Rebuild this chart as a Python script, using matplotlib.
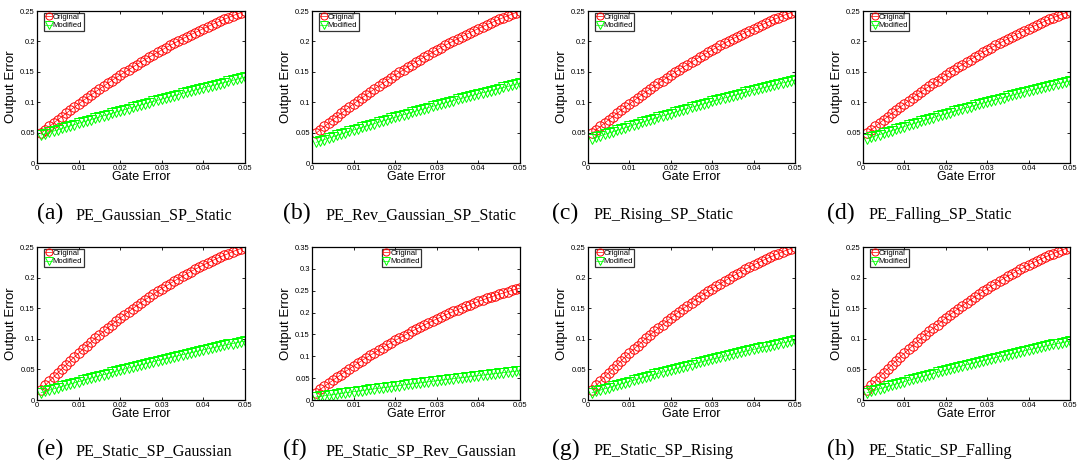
import matplotlib
matplotlib.use('Agg')
import matplotlib.pyplot as plt

# gate error sweep (x axis shared by all panels)
gate_error = [0.001, 0.002, 0.003, 0.004, 0.005, 0.006, 0.007, 0.008, 0.009, 0.010,
              0.011, 0.012, 0.013, 0.014, 0.015, 0.016, 0.017, 0.018, 0.019, 0.020,
              0.021, 0.022, 0.023, 0.024, 0.025, 0.026, 0.027, 0.028, 0.029, 0.030,
              0.031, 0.032, 0.033, 0.034, 0.035, 0.036, 0.037, 0.038, 0.039, 0.040,
              0.041, 0.042, 0.043, 0.044, 0.045, 0.046, 0.047, 0.048, 0.049, 0.050]

# original output error, PE varied (a-d)
orig_pe = [0.0490, 0.0546, 0.0601, 0.0656, 0.0710, 0.0763, 0.0816, 0.0868, 0.0920, 0.0971,
           0.1021, 0.1070, 0.1120, 0.1168, 0.1216, 0.1263, 0.1310, 0.1356, 0.1401, 0.1446,
           0.1490, 0.1533, 0.1576, 0.1618, 0.1660, 0.1701, 0.1742, 0.1781, 0.1821, 0.1859,
           0.1897, 0.1934, 0.1971, 0.2007, 0.2043, 0.2077, 0.2112, 0.2145, 0.2178, 0.2211,
           0.2242, 0.2274, 0.2304, 0.2334, 0.2363, 0.2392, 0.2420, 0.2447, 0.2474, 0.2500]

# original output error, SP varied (e, g, h)
orig_sp = [0.0170, 0.0240, 0.0309, 0.0377, 0.0444, 0.0510, 0.0575, 0.0639, 0.0703, 0.0765,
           0.0827, 0.0887, 0.0947, 0.1006, 0.1063, 0.1120, 0.1176, 0.1231, 0.1285, 0.1338,
           0.1391, 0.1442, 0.1492, 0.1542, 0.1590, 0.1638, 0.1684, 0.1730, 0.1775, 0.1818,
           0.1861, 0.1903, 0.1944, 0.1985, 0.2024, 0.2062, 0.2099, 0.2136, 0.2171, 0.2206,
           0.2239, 0.2272, 0.2304, 0.2335, 0.2365, 0.2393, 0.2422, 0.2449, 0.2475, 0.2500]

# original output error, panel (f)
orig_f = [0.0171, 0.0242, 0.0313, 0.0382, 0.0450, 0.0517, 0.0583, 0.0649, 0.0714, 0.0777,
          0.0840, 0.0901, 0.0963, 0.1023, 0.1081, 0.1139, 0.1196, 0.1253, 0.1308, 0.1362,
          0.1416, 0.1468, 0.1520, 0.1571, 0.1620, 0.1669, 0.1716, 0.1764, 0.1810, 0.1854,
          0.1898, 0.1941, 0.1984, 0.2026, 0.2066, 0.2105, 0.2143, 0.2182, 0.2218, 0.2254,
          0.2288, 0.2322, 0.2356, 0.2388, 0.2419, 0.2448, 0.2478, 0.2507, 0.2534, 0.2560]

mod_a = [0.0460, 0.0482, 0.0503, 0.0525, 0.0546, 0.0568, 0.0589, 0.0610, 0.0631, 0.0652,
         0.0673, 0.0694, 0.0715, 0.0735, 0.0756, 0.0776, 0.0796, 0.0816, 0.0837, 0.0857,
         0.0876, 0.0896, 0.0916, 0.0936, 0.0955, 0.0974, 0.0994, 0.1013, 0.1032, 0.1051,
         0.1070, 0.1089, 0.1107, 0.1126, 0.1144, 0.1163, 0.1181, 0.1199, 0.1217, 0.1235,
         0.1253, 0.1271, 0.1289, 0.1306, 0.1324, 0.1341, 0.1359, 0.1376, 0.1393, 0.1410]

mod_b = [0.0340, 0.0363, 0.0386, 0.0408, 0.0431, 0.0453, 0.0475, 0.0497, 0.0519, 0.0541,
         0.0563, 0.0584, 0.0606, 0.0627, 0.0648, 0.0669, 0.0690, 0.0711, 0.0732, 0.0752,
         0.0773, 0.0793, 0.0813, 0.0833, 0.0853, 0.0873, 0.0892, 0.0912, 0.0931, 0.0951,
         0.0970, 0.0989, 0.1008, 0.1027, 0.1045, 0.1064, 0.1082, 0.1100, 0.1119, 0.1137,
         0.1155, 0.1172, 0.1190, 0.1208, 0.1225, 0.1242, 0.1259, 0.1276, 0.1293, 0.1310]

mod_c = [0.0400, 0.0423, 0.0446, 0.0469, 0.0491, 0.0514, 0.0536, 0.0559, 0.0581, 0.0603,
         0.0624, 0.0646, 0.0668, 0.0689, 0.0710, 0.0731, 0.0752, 0.0773, 0.0794, 0.0814,
         0.0835, 0.0855, 0.0875, 0.0895, 0.0915, 0.0935, 0.0954, 0.0974, 0.0993, 0.1012,
         0.1031, 0.1050, 0.1069, 0.1087, 0.1106, 0.1124, 0.1142, 0.1160, 0.1178, 0.1196,
         0.1213, 0.1231, 0.1248, 0.1265, 0.1282, 0.1299, 0.1316, 0.1332, 0.1349, 0.1365]

mod_d = [0.0400, 0.0422, 0.0445, 0.0468, 0.0490, 0.0512, 0.0534, 0.0557, 0.0578, 0.0600,
         0.0621, 0.0642, 0.0664, 0.0685, 0.0706, 0.0726, 0.0747, 0.0768, 0.0788, 0.0808,
         0.0829, 0.0848, 0.0868, 0.0888, 0.0908, 0.0927, 0.0946, 0.0966, 0.0984, 0.1003,
         0.1022, 0.1040, 0.1059, 0.1077, 0.1096, 0.1113, 0.1131, 0.1149, 0.1166, 0.1184,
         0.1201, 0.1218, 0.1235, 0.1252, 0.1269, 0.1285, 0.1302, 0.1318, 0.1334, 0.1350]

mod_e = [0.0120, 0.0141, 0.0161, 0.0181, 0.0201, 0.0221, 0.0241, 0.0261, 0.0280, 0.0300,
         0.0319, 0.0338, 0.0357, 0.0376, 0.0395, 0.0414, 0.0432, 0.0450, 0.0469, 0.0487,
         0.0505, 0.0522, 0.0540, 0.0558, 0.0575, 0.0592, 0.0609, 0.0626, 0.0643, 0.0660,
         0.0676, 0.0693, 0.0709, 0.0725, 0.0741, 0.0757, 0.0773, 0.0788, 0.0804, 0.0819,
         0.0834, 0.0850, 0.0864, 0.0879, 0.0894, 0.0908, 0.0923, 0.0937, 0.0951, 0.0965]

mod_f = [0.0070, 0.0084, 0.0097, 0.0110, 0.0124, 0.0137, 0.0150, 0.0164, 0.0177, 0.0190,
         0.0203, 0.0216, 0.0229, 0.0242, 0.0255, 0.0267, 0.0280, 0.0293, 0.0305, 0.0318,
         0.0330, 0.0343, 0.0355, 0.0368, 0.0380, 0.0392, 0.0404, 0.0417, 0.0429, 0.0441,
         0.0453, 0.0465, 0.0476, 0.0488, 0.0500, 0.0512, 0.0523, 0.0535, 0.0547, 0.0558,
         0.0569, 0.0581, 0.0592, 0.0603, 0.0615, 0.0626, 0.0637, 0.0648, 0.0659, 0.0670]

mod_g = [0.0120, 0.0141, 0.0162, 0.0182, 0.0202, 0.0222, 0.0242, 0.0263, 0.0282, 0.0302,
         0.0321, 0.0340, 0.0360, 0.0379, 0.0398, 0.0417, 0.0435, 0.0454, 0.0473, 0.0491,
         0.0509, 0.0526, 0.0545, 0.0563, 0.0580, 0.0597, 0.0614, 0.0632, 0.0649, 0.0666,
         0.0682, 0.0699, 0.0716, 0.0732, 0.0748, 0.0764, 0.0780, 0.0796, 0.0812, 0.0827,
         0.0842, 0.0858, 0.0873, 0.0888, 0.0903, 0.0917, 0.0932, 0.0947, 0.0961, 0.0975]

mod_h = mod_e

letters = ['(a)', '(b)', '(c)', '(d)', '(e)', '(f)', '(g)', '(h)']
names = ['PE_Gaussian_SP_Static', 'PE_Rev_Gaussian_SP_Static', 'PE_Rising_SP_Static',
         'PE_Falling_SP_Static', 'PE_Static_SP_Gaussian', 'PE_Static_SP_Rev_Gaussian',
         'PE_Static_SP_Rising', 'PE_Static_SP_Falling']
originals = [orig_pe, orig_pe, orig_pe, orig_pe, orig_sp, orig_f, orig_sp, orig_sp]
modifieds = [mod_a, mod_b, mod_c, mod_d, mod_e, mod_f, mod_g, mod_h]
ymax = [0.25, 0.25, 0.25, 0.25, 0.25, 0.35, 0.25, 0.25]
yticks_025 = [0, 0.05, 0.1, 0.15, 0.2, 0.25]
yticks_035 = [0, 0.05, 0.1, 0.15, 0.2, 0.25, 0.3, 0.35]
xticks = [0, 0.01, 0.02, 0.03, 0.04, 0.05]

W, H = 1078, 473
fig = plt.figure(figsize=(W / 100, H / 100), dpi=100)
fig.patch.set_facecolor('white')

sans = ['Liberation Sans', 'DejaVu Sans']
serif = ['Liberation Serif', 'DejaVu Serif']

# axes boxes in pixels: left, right, top, bottom
lefts = [37, 312, 588, 863]
rights = [245, 520, 795, 1070]
tops = [11, 247]
bottoms = [163, 400]
cap_letter_x = [37, 283, 552, 827]
cap_name_x = [75, 325, 593, 868]
cap_base_y = [219, 455]


def fmt(v):
    return '0' if v == 0 else ('%g' % v)


for i in range(8):
    r, c = divmod(i, 4)
    l, rt, t, b = lefts[c], rights[c], tops[r], bottoms[r]
    ax = fig.add_axes([l / W, 1 - b / H, (rt - l) / W, (b - t) / H])
    ax.plot(gate_error, originals[i], '-o', color='red', mfc='none', ms=6.8,
            mew=0.7, lw=0.5, label='Original')
    ax.plot(gate_error, modifieds[i], '-v', color='#00ff00', mfc='none', ms=7,
            mew=0.7, lw=0.5, label='Modified')
    ax.set_xlim(0, 0.05)
    ax.set_ylim(0, ymax[i])
    yt = yticks_035 if ymax[i] > 0.3 else yticks_025
    ax.set_xticks(xticks)
    ax.set_xticklabels([fmt(v) for v in xticks], family=sans, fontsize=5.5)
    ax.set_yticks(yt)
    ax.set_yticklabels([fmt(v) for v in yt], family=sans, fontsize=5.5)
    ax.tick_params(direction='in', length=2.5, width=0.6, top=True, right=True, pad=1.5)
    for s in ax.spines.values():
        s.set_linewidth(0.9)
    ax.set_xlabel('Gate Error', family=sans, fontsize=9, labelpad=-1)
    ax.set_ylabel('Output Error', family=sans, fontsize=9.5, labelpad=2)
    if i == 5:
        loc, anchor = 'upper center', (0.43, 0.99)
    else:
        loc, anchor = 'upper left', (0.035, 0.99)
    leg = ax.legend(loc=loc, bbox_to_anchor=anchor, prop={'family': sans, 'size': 5.6},
                    frameon=True, fancybox=False, edgecolor='black', handlelength=0.8,
                    handletextpad=0.15, borderpad=0.15, labelspacing=0.1,
                    borderaxespad=0.0, markerscale=0.75)
    leg.get_frame().set_linewidth(0.9)

    yb = 1 - cap_base_y[r] / H
    fig.text(cap_letter_x[c] / W, yb, letters[i], family=serif, fontsize=17,
             va='baseline', ha='left')
    fig.text(cap_name_x[c] / W, yb, names[i], family=serif, fontsize=11.6,
             va='baseline', ha='left')

fig.savefig('out.png', dpi=100, facecolor='white')
